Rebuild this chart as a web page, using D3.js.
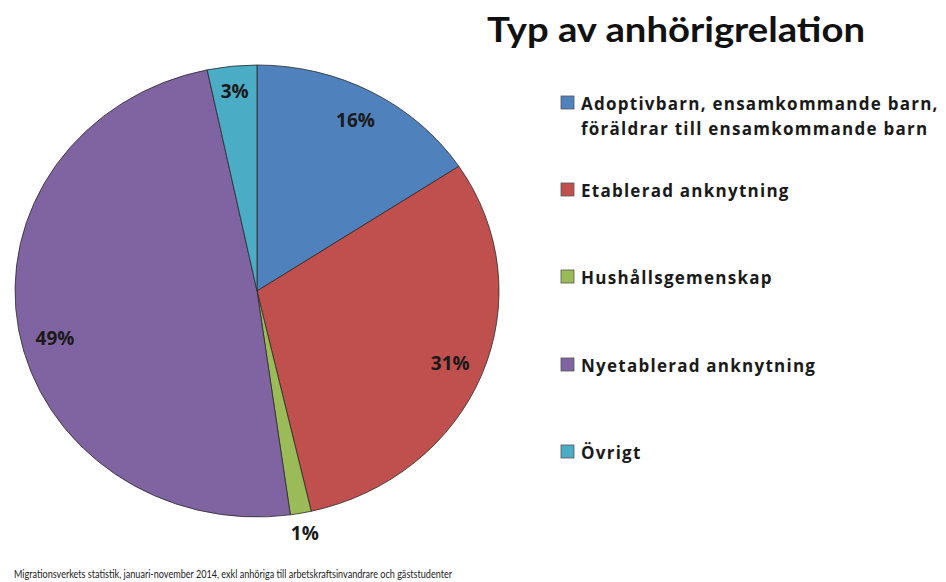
<!DOCTYPE html>
<html><head><meta charset="utf-8">
<script src="https://cdn.jsdelivr.net/npm/d3@7"></script>
<style>body{margin:0;background:#fff;} svg{display:block;}</style>
</head><body>
<svg id="c" width="946" height="582"></svg>
<script>
const categories = ["Adoptivbarn, ensamkommande barn, föräldrar till ensamkommande barn","Etablerad anknytning","Hushållsgemenskap","Nyetablerad anknytning","Övrigt"];
const legendLines = [["Adoptivbarn, ensamkommande barn,","föräldrar till ensamkommande barn"],["Etablerad anknytning"],["Hushållsgemenskap"],["Nyetablerad anknytning"],["Övrigt"]];
const values = [15.7, 30.7, 1.4, 48.9, 3.3];
const labels = ["16%","31%","1%","49%","3%"];
const colors = ["#4F81BD","#C0504D","#9BBB59","#8064A2","#4BACC6"];
const title = "Typ av anhörigrelation";
const footnote = "Migrationsverkets statistik, januari-november 2014, exkl anhöriga till arbetskraftsinvandrare och gäststudenter";

const svg = d3.select("#c");
const cx = 257, cy = 291, rx = 242, ry = 226;
const bodyFont = "'Open Sans', sans-serif";
const titleFont = "Lato, 'Open Sans', sans-serif";

const pie = d3.pie().sort(null).value(d => d);
const arcs = pie(values);
const arc = d3.arc().innerRadius(0).outerRadius(ry);

const g = svg.append("g").attr("transform", `translate(${cx},${cy}) scale(${rx/ry},1)`);
g.selectAll("path").data(arcs).join("path")
  .attr("d", arc).attr("fill", (d,i) => colors[i])
  .attr("stroke", "#2a2a2a").attr("stroke-width", 0.8).attr("vector-effect","non-scaling-stroke");

// label radial fractions and angle nudges (radians) along each slice's mid-angle
const labelR = [0.86, 0.86, 1.09, 0.86, 0.89];
const labelDA = [0, 0, 0, -0.07, 0];
const la = (d,i) => (d.startAngle+d.endAngle)/2 + labelDA[i];
svg.append("g").selectAll("text").data(arcs).join("text")
  .attr("x", (d,i) => cx + Math.sin(la(d,i))*rx*labelR[i])
  .attr("y", (d,i) => cy - Math.cos(la(d,i))*ry*labelR[i])
  .attr("text-anchor","middle").attr("dominant-baseline","central")
  .attr("font-family", bodyFont).attr("font-weight","bold").attr("font-size", 19).attr("fill","#1a1a1a")
  .text((d,i) => labels[i]);

svg.append("text").attr("x", 487).attr("y", 42).attr("font-family", titleFont).attr("font-weight","bold")
  .attr("font-size", 35).attr("fill","#111").attr("textLength", 378).attr("lengthAdjust","spacingAndGlyphs").text(title);

const legendY = [103, 190, 277, 365, 452];
const lg = svg.append("g");
categories.forEach((c,i) => {
  lg.append("rect").attr("x", 561).attr("y", legendY[i]-7).attr("width", 13).attr("height", 13)
    .attr("fill", colors[i]).attr("stroke", "#555").attr("stroke-width", 0.8);
  legendLines[i].forEach((ln,j) => {
    lg.append("text").attr("x", 581).attr("y", legendY[i] + j*25).attr("dominant-baseline","central")
      .attr("font-family", bodyFont).attr("font-weight","bold").attr("font-size", 17)
      .attr("letter-spacing", 1.25).attr("fill","#1a1a1a").text(ln);
  });
});

svg.append("text").attr("x", 14).attr("y", 578).attr("font-family", titleFont).attr("font-size", 11)
  .attr("fill","#222").attr("textLength", 438).attr("lengthAdjust","spacingAndGlyphs").text(footnote);
</script>
</body></html>
